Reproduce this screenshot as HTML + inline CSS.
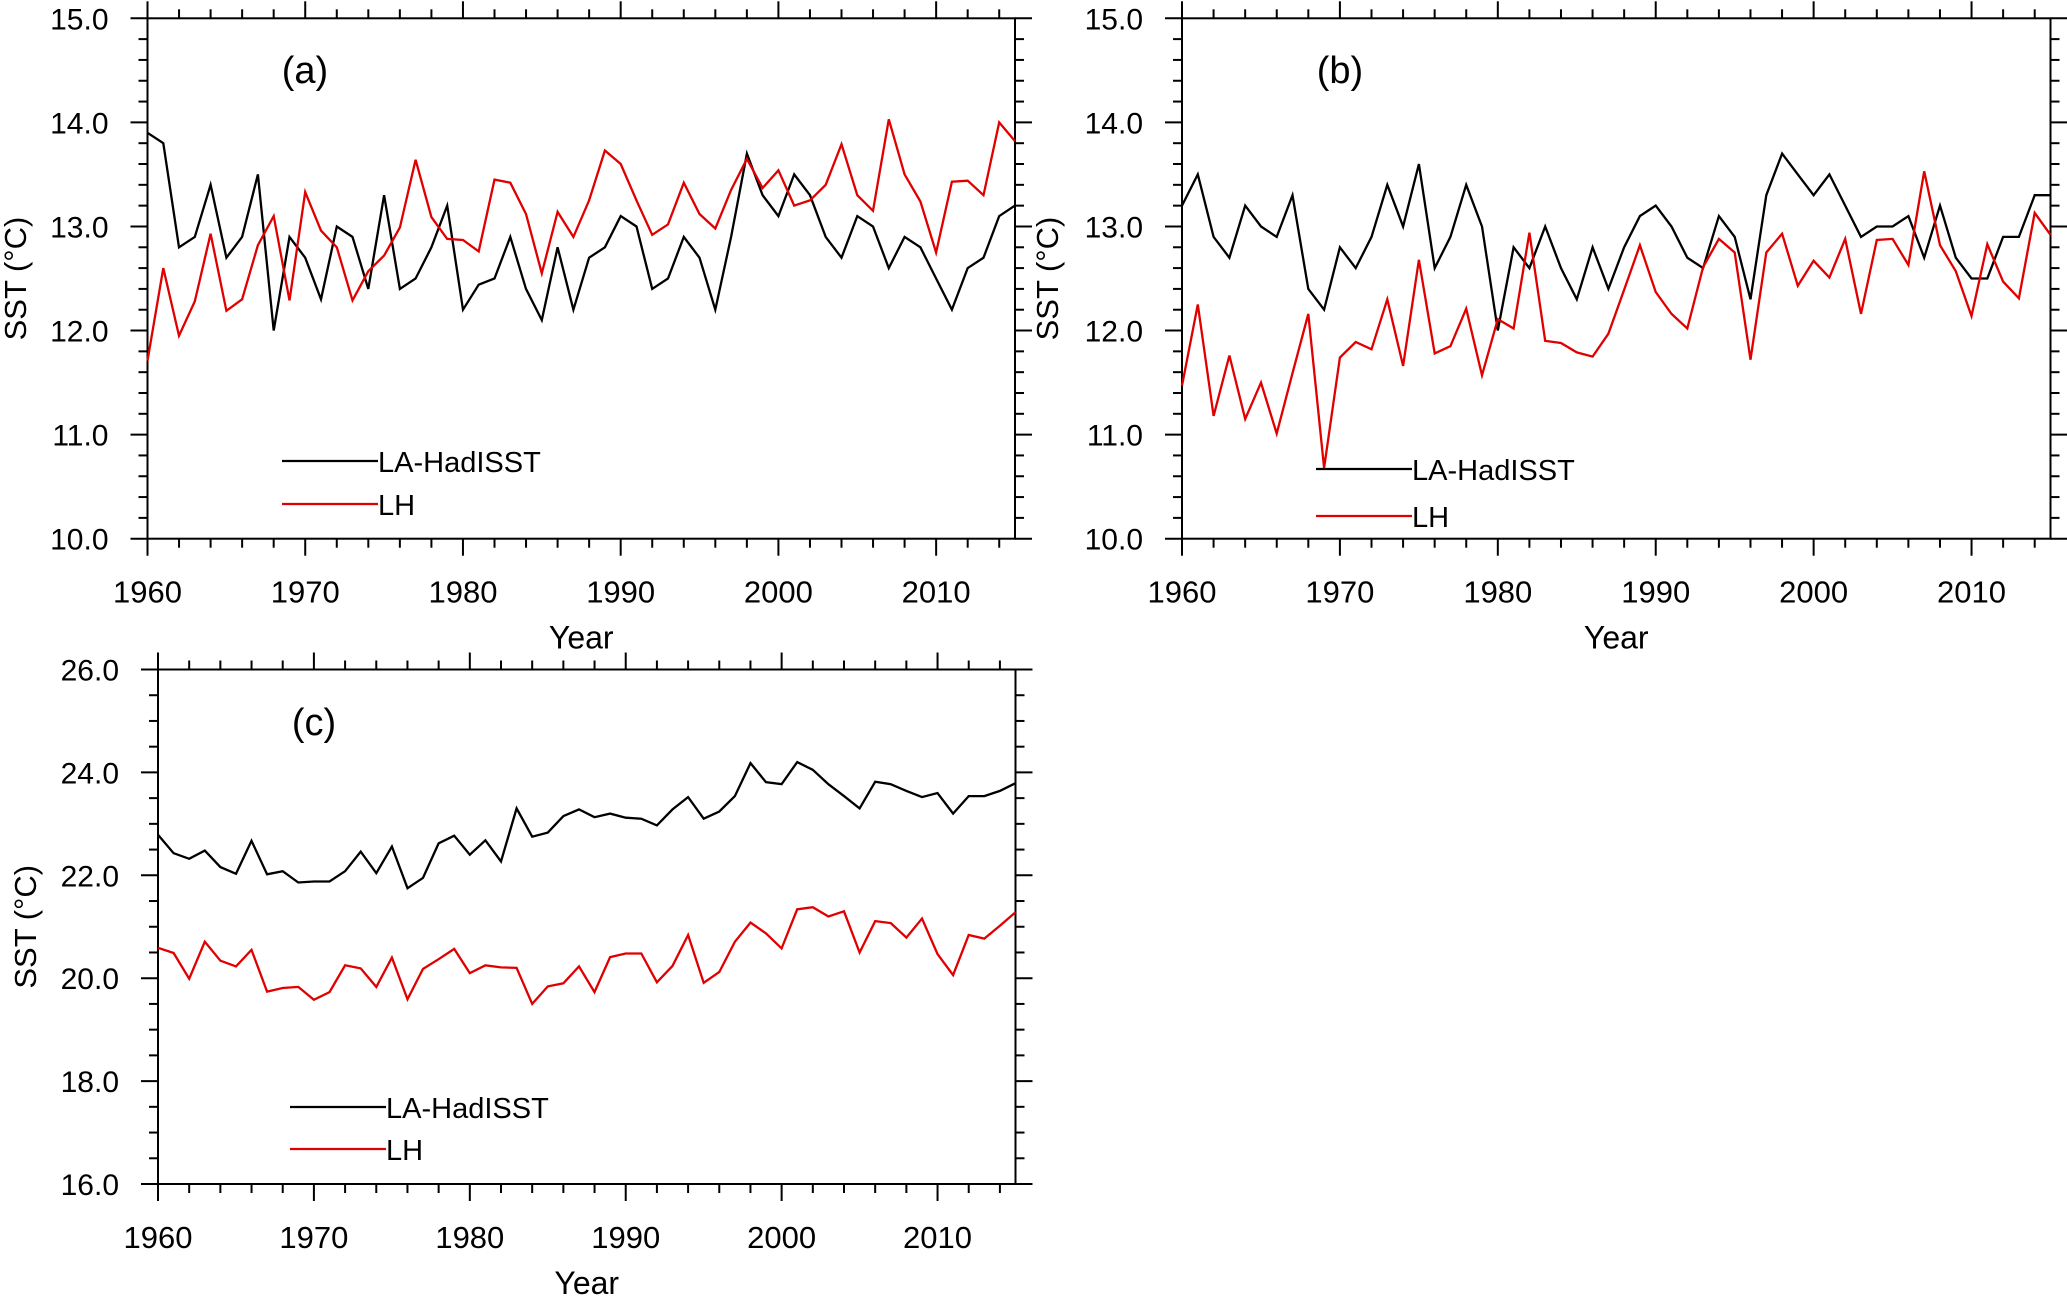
<!DOCTYPE html>
<html><head><meta charset="utf-8"><style>
html,body{margin:0;padding:0;background:#fff;}
svg{display:block;font-family:"Liberation Sans",Arial,sans-serif;}
</style></head><body>
<svg id="fig" width="2067" height="1299" viewBox="0 0 2067 1299" xmlns="http://www.w3.org/2000/svg"></svg>
<script>
const years = [];
for (let y = 1960; y <= 2015; y++) years.push(y);

const aBlack = [13.9,13.8,12.8,12.9,13.4,12.7,12.9,13.5,12.0,12.9,12.7,12.3,13.0,12.9,12.4,13.3,12.4,12.5,12.8,13.2,12.2,12.44,12.5,12.9,12.4,12.1,12.8,12.2,12.7,12.8,13.1,13.0,12.4,12.5,12.9,12.7,12.2,12.9,13.7,13.3,13.1,13.5,13.3,12.9,12.7,13.1,13.0,12.6,12.9,12.8,12.5,12.2,12.6,12.7,13.1,13.2];
const aRed = [11.71,12.6,11.95,12.28,12.93,12.19,12.3,12.82,13.1,12.29,13.33,12.96,12.8,12.29,12.57,12.72,12.99,13.64,13.09,12.88,12.87,12.76,13.45,13.42,13.12,12.55,13.14,12.9,13.25,13.73,13.6,13.25,12.92,13.02,13.42,13.12,12.98,13.35,13.65,13.37,13.54,13.2,13.25,13.4,13.79,13.3,13.15,14.03,13.5,13.24,12.75,13.43,13.44,13.3,14.0,13.82];
const bBlack = [13.2,13.5,12.9,12.7,13.2,13.0,12.9,13.3,12.4,12.2,12.8,12.6,12.9,13.4,13.0,13.6,12.6,12.9,13.4,13.0,12.0,12.8,12.6,13.0,12.6,12.3,12.8,12.4,12.8,13.1,13.2,13.0,12.7,12.6,13.1,12.9,12.3,13.3,13.7,13.5,13.3,13.5,13.2,12.9,13.0,13.0,13.1,12.7,13.2,12.7,12.5,12.5,12.9,12.9,13.3,13.3];
const bRed = [11.47,12.25,11.18,11.76,11.15,11.5,11.01,11.59,12.16,10.68,11.74,11.89,11.82,12.3,11.66,12.68,11.78,11.85,12.21,11.57,12.11,12.02,12.94,11.9,11.88,11.79,11.75,11.97,12.39,12.82,12.37,12.16,12.02,12.61,12.88,12.75,11.72,12.75,12.93,12.43,12.67,12.51,12.88,12.16,12.87,12.88,12.63,13.53,12.82,12.57,12.14,12.83,12.47,12.31,13.13,12.92];
const cBlack = [22.79,22.43,22.32,22.48,22.16,22.03,22.67,22.02,22.08,21.86,21.88,21.88,22.08,22.46,22.04,22.56,21.75,21.95,22.62,22.77,22.4,22.68,22.27,23.3,22.75,22.83,23.15,23.28,23.13,23.2,23.12,23.1,22.97,23.28,23.52,23.1,23.24,23.54,24.18,23.81,23.77,24.2,24.05,23.77,23.54,23.3,23.82,23.77,23.64,23.52,23.6,23.2,23.54,23.54,23.64,23.79];
const cRed = [20.59,20.49,19.99,20.71,20.34,20.23,20.55,19.74,19.81,19.83,19.58,19.73,20.25,20.19,19.83,20.4,19.59,20.18,20.37,20.57,20.1,20.25,20.21,20.2,19.5,19.84,19.9,20.23,19.73,20.41,20.48,20.48,19.92,20.24,20.84,19.91,20.12,20.71,21.08,20.87,20.58,21.34,21.38,21.2,21.3,20.5,21.11,21.07,20.79,21.16,20.47,20.06,20.84,20.77,21.02,21.28];

const xTickLabels = ["1960","1970","1980","1990","2000","2010"];
const yTickLabelsAB = ["10.0","11.0","12.0","13.0","14.0","15.0"];
const yTickLabelsC = ["16.0","18.0","20.0","22.0","24.0","26.0"];
const seriesNames = ["LA-HadISST","LH"];

const NS = "http://www.w3.org/2000/svg";
const svg = document.getElementById('fig');
function mk(tag, attrs, parent) {
  const e = document.createElementNS(NS, tag);
  for (const k in attrs) e.setAttribute(k, attrs[k]);
  (parent || svg).appendChild(e);
  return e;
}

function panel(cfg) {
  const g = mk('g', {});
  
  
  const {L, R, T, B, ymin, ymax, yMinor, yMajor, yLabels} = cfg;
  const xs = v => L + (v - 1960) / (2015 - 1960) * (R - L);
  const ys = v => B - (v - ymin) / (ymax - ymin) * (B - T);
  const fr = mk('rect', {x: L, y: T, width: R - L, height: B - T, fill: 'none', stroke: '#000', 'stroke-width': 2}, g);
  
  
  for (let yr = 1960; yr <= 2015; yr += 2) {
    const major = (yr % 10 === 0);
    const len = major ? 17 : 9;
    const x = xs(yr);
    mk('line', {x1: x, x2: x, y1: B, y2: B + len, stroke: '#000', 'stroke-width': 2}, g);
    mk('line', {x1: x, x2: x, y1: T, y2: T - len, stroke: '#000', 'stroke-width': 2}, g);
  }
  xTickLabels.forEach(lab => {
    const t = mk('text', {x: xs(+lab), y: B + 64, 'font-size': 31, 'text-anchor': 'middle'}, g);
    t.textContent = lab;
    
    
  });
  for (let v = ymin; v <= ymax + 1e-6; v += yMinor) {
    const vv = Math.round(v * 100) / 100;
    const major = Math.abs(vv / yMajor - Math.round(vv / yMajor)) < 1e-6;
    const len = major ? 17 : 9;
    const y = ys(vv);
    mk('line', {x1: L, x2: L - len, y1: y, y2: y, stroke: '#000', 'stroke-width': 2}, g);
    mk('line', {x1: R, x2: R + len, y1: y, y2: y, stroke: '#000', 'stroke-width': 2}, g);
  }
  yLabels.forEach(lab => {
    const t = mk('text', {x: L - 39, y: ys(+lab) + 11, 'font-size': 30, 'text-anchor': 'end'}, g);
    t.textContent = lab;
    
    
  });
  const xt = mk('text', {x: (L + R) / 2, y: B + 110, 'font-size': 32, 'text-anchor': 'middle'}, g);
  xt.textContent = 'Year';
  
  
  const cy = (T + B) / 2;
  const yt = mk('text', {x: cfg.ytX, y: cy, 'font-size': 31, 'text-anchor': 'middle', transform: `rotate(-90 ${cfg.ytX} ${cy})`}, g);
  yt.textContent = 'SST (°C)';
  
  
  const pl = mk('text', {x: cfg.labX, y: cfg.labY, 'font-size': 38, 'text-anchor': 'middle'}, g);
  pl.textContent = cfg.label;
  
  
  [[cfg.black, '#000', 'la-hadisst-line'], [cfg.red, '#e00000', 'lh-line']].forEach(([arr, col, nm]) => {
    const pts = arr.map((v, i) => xs(years[i]).toFixed(1) + ',' + ys(v).toFixed(1)).join(' ');
    const pl2 = mk('polyline', {points: pts, fill: 'none', stroke: col, 'stroke-width': 2.3, 'stroke-linejoin': 'miter'}, g);
    
    
  });
  const lg = mk('g', {}, g);
  
  
  [['#000', cfg.legY1, seriesNames[0]], ['#e00000', cfg.legY2, seriesNames[1]]].forEach(([col, y, name]) => {
    const ln = mk('line', {x1: cfg.legX, x2: cfg.legX + 96, y1: y, y2: y, stroke: col, 'stroke-width': 2.3}, lg);
    
    
    const tx = mk('text', {x: cfg.legX + 96, y: y + 11, 'font-size': 29}, lg);
    tx.textContent = name;
    
    
  });
}

panel({name: 'panel-a', L: 147.5, R: 1015, T: 18.3, B: 538.7, ymin: 10, ymax: 15, yMinor: 0.2, yMajor: 1, yLabels: yTickLabelsAB,
  black: aBlack, red: aRed, ytX: 26, label: '(a)', labX: 305, labY: 83, legX: 282, legY1: 461, legY2: 504});
panel({name: 'panel-b', L: 1182, R: 2050.5, T: 18.3, B: 538.7, ymin: 10, ymax: 15, yMinor: 0.2, yMajor: 1, yLabels: yTickLabelsAB,
  black: bBlack, red: bRed, ytX: 1058, label: '(b)', labX: 1340, labY: 83, legX: 1316, legY1: 469, legY2: 516});
panel({name: 'panel-c', L: 158, R: 1015.5, T: 669.5, B: 1184, ymin: 16, ymax: 26, yMinor: 0.5, yMajor: 2, yLabels: yTickLabelsC,
  black: cBlack, red: cRed, ytX: 36, label: '(c)', labX: 314, labY: 735, legX: 290, legY1: 1107, legY2: 1149});
</script>
</body></html>
